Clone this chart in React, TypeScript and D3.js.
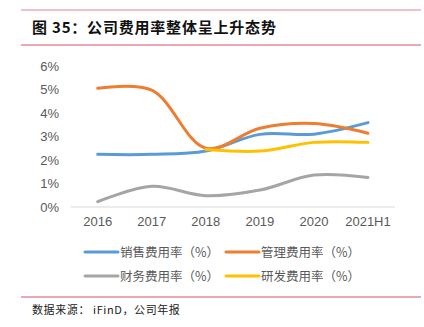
import React from "react";
import * as d3 from "d3";

const categories = ["2016", "2017", "2018", "2019", "2020", "2021H1"];
const salesRate = [2.24, 2.24, 2.38, 3.09, 3.1, 3.59];
const mgmtRate = [5.05, 4.97, 2.5, 3.35, 3.55, 3.14];
const finRate = [0.23, 0.88, 0.48, 0.72, 1.36, 1.26];
const rdRate = [null, null, 2.45, 2.38, 2.75, 2.75];
const yTicks = [0, 1, 2, 3, 4, 5, 6];

const seriesNames = ["销售费用率（%）", "管理费用率（%）", "财务费用率（%）", "研发费用率（%）"];
const seriesColors = ["#5B9BD5", "#ED7D31", "#A5A5A5", "#FFC000"];

export default function App() {
  const W = 424, H = 327;
  const x = d3.scaleBand<string>().domain(categories).range([70.7, 395]);
  const y = d3.scaleLinear().domain([0, 6]).range([207, 66]);
  const cx = (c: string) => (x(c) as number) + x.bandwidth() / 2;
  const all = [salesRate, mgmtRate, finRate, rdRate];
  const line = d3
    .line<[string, number | null]>()
    .defined((d) => d[1] != null)
    .x((d) => cx(d[0]))
    .y((d) => y(d[1] as number))
    .curve(d3.curveCatmullRom.alpha(0.5));
  const drawOrder = [0, 1, 2, 3];
  const legendPos = [
    [85, 252],
    [226, 252],
    [85, 276],
    [226, 276],
  ];
  const font = "'Noto Sans CJK SC', 'Liberation Sans', Arial, sans-serif";
  return (
    <svg width={W} height={H} style={{ position: "absolute", left: 0, top: 0 }} fontFamily={font}>
      <rect width={W} height={H} fill="#fff" />
      <line x1={21} x2={421} y1={10} y2={10} stroke="#E38193" strokeWidth={1} />
      <line x1={21} x2={421} y1={45} y2={45} stroke="#D6536D" strokeWidth={1} />
      <line x1={21} x2={421} y1={297} y2={297} stroke="#D6536D" strokeWidth={1} />
      <text x={32} y={33} fontSize={15} fontWeight="bold" fill="#111" letterSpacing={0.8}>
        图 35：公司费用率整体呈上升态势
      </text>
      {yTicks.map((t) => (
        <text key={t} x={59} y={y(t) + 4.5} fontSize={13} fill="#595959" textAnchor="end"
          fontFamily="'Liberation Sans', Arial, sans-serif">
          {t}%
        </text>
      ))}
      <line x1={70.7} x2={395} y1={207} y2={207} stroke="#D9D9D9" strokeWidth={1} />
      {categories.map((c) => (
        <text key={c} x={cx(c)} y={226} fontSize={13} fill="#595959" textAnchor="middle"
          fontFamily="'Liberation Sans', Arial, sans-serif">
          {c}
        </text>
      ))}
      {drawOrder.map((i) => (
        <path
          key={i}
          d={line(categories.map((c, j) => [c, all[i][j]]) as [string, number | null][]) || ""}
          fill="none"
          stroke={seriesColors[i]}
          strokeWidth={3}
          strokeLinecap="round"
        />
      ))}
      {seriesNames.map((n, i) => (
        <g key={n}>
          <line x1={legendPos[i][0]} x2={legendPos[i][0] + 33} y1={legendPos[i][1]} y2={legendPos[i][1]}
            stroke={seriesColors[i]} strokeWidth={3} strokeLinecap="round" />
          <text x={legendPos[i][0] + 35} y={legendPos[i][1] + 4.5} fontSize={12.5} fill="#595959">
            {n}
          </text>
        </g>
      ))}
      <text x={32} y={314} fontSize={11} fill="#222" letterSpacing={0.6}>
        数据来源： iFinD，公司年报
      </text>
    </svg>
  );
}
